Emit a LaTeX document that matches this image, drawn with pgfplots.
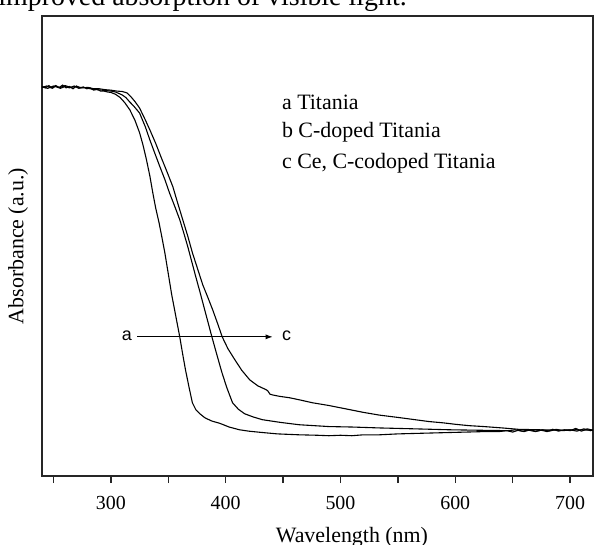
\documentclass[border=0pt]{standalone}
\usepackage{fontspec}
\setmainfont{Liberation Serif}
\newfontfamily\arialfont{Liberation Sans}
\usepackage{pgfplots}
\pgfplotsset{compat=1.18}
\usetikzlibrary{arrows.meta}

% absorbance spectra, values
\pgfplotstableread{
x y
240 0.846
243 0.843
246 0.848
249 0.842
252 0.847
255 0.844
258 0.849
261 0.843
264 0.846
267 0.841
270 0.847
273 0.843
276 0.845
279 0.841
282 0.843
285 0.838
288 0.840
291 0.836
294 0.836
297 0.834
300 0.833
304 0.829
308 0.822
312 0.811
316.5 0.795
321 0.772
325 0.745
328 0.718
331 0.686
334 0.650
336.5 0.614
339 0.581
342 0.548
344.5 0.516
347 0.483
350 0.437
353 0.391
356.5 0.345
360 0.299
362.5 0.262
365 0.227
368 0.190
371 0.155
374 0.140
378 0.130
382 0.122
388 0.115
395 0.110
403 0.102
412 0.096
420 0.093
432 0.090
445 0.087
464 0.085
480 0.084
490 0.083
500 0.084
510 0.083
520 0.085
534 0.085
550 0.087
565 0.088
580 0.089
595 0.090
610 0.091
625 0.092
638 0.092
645 0.094
650 0.091
655 0.095
660 0.092
665 0.096
670 0.093
675 0.095
680 0.092
685 0.097
690 0.093
695 0.096
700 0.094
705 0.099
710 0.093
715 0.098
720 0.095
}\dataA

\pgfplotstableread{
x y
240 0.844
244 0.847
248 0.843
252 0.848
256 0.842
260 0.846
264 0.843
268 0.847
272 0.842
276 0.844
280 0.842
284 0.840
288 0.839
292 0.838
296 0.837
300 0.836
304 0.834
309.5 0.828
313 0.822
316.5 0.812
320 0.803
325 0.788
330 0.758
334 0.729
338 0.702
342.5 0.672
347 0.643
351 0.614
355.5 0.585
360 0.555
363.5 0.526
367 0.496
370.5 0.463
374 0.430
377.5 0.398
381 0.365
384.5 0.332
388 0.299
392 0.263
396.5 0.223
401 0.188
406 0.155
411 0.141
416.5 0.131
424 0.124
432 0.118
448 0.112
464 0.107
490 0.103
510 0.102
534 0.100
565 0.098
595 0.096
620 0.095
647 0.094
652 0.096
658 0.093
664 0.095
670 0.092
676 0.096
682 0.093
688 0.097
694 0.094
700 0.096
706 0.093
712 0.098
718 0.094
720 0.096
}\dataB

\pgfplotstableread{
x y
240 0.845
245 0.842
250 0.847
255 0.843
260 0.848
265 0.844
270 0.846
275 0.843
280 0.844
285 0.841
290 0.841
295 0.839
300 0.838
305 0.836
310 0.835
314 0.832
318 0.822
321 0.813
325 0.799
330 0.773
334 0.751
339 0.722
344 0.690
349 0.659
354 0.627
358 0.593
362.6 0.555
367 0.519
371 0.483
375.5 0.448
380 0.413
384.5 0.385
388.7 0.358
393 0.328
397 0.299
402 0.273
408 0.249
414 0.226
421 0.205
428 0.192
435.7 0.183
437 0.180
438.5 0.174
441 0.172
447 0.169
455.6 0.166
465 0.161
475.6 0.155
490 0.149
508 0.140
520 0.134
534 0.128
550 0.123
565 0.118
577 0.114
590 0.111
600 0.108
612 0.105
625 0.103
641 0.100
655 0.097
673 0.096
690 0.095
705 0.096
720 0.095
}\dataC

\begin{document}
\begin{tikzpicture}
\path[use as bounding box] (-21bp,-34.5bp) rectangle (276bp,238bp);
\node[anchor=base west, inner sep=0pt, font=\fontsize{14}{16}\selectfont] at (-22bp,235bp) {improved absorption of visible light.};
\begin{axis}[
  name=ax,
  at={(0,0)}, anchor=south west,
  scale only axis,
  width=275.5bp, height=230bp,
  xmin=240, xmax=720, ymin=-0.005, ymax=1,
  xtick={300,400,...,700},
  minor xtick={250,350,...,650},
  ytick=\empty,
  xtick pos=bottom,
  tick align=outside,
  major tick length=3.5bp, minor tick length=3.5bp,
  every tick/.style={line width=0.7pt, black!85},
  axis line style={line width=0.9pt, black!85},
  /pgf/number format/assume math mode=true,
  xticklabel style={font=\fontsize{10}{12}\selectfont, yshift=-3bp},
  xlabel={Wavelength (nm)},
  xlabel style={font=\fontsize{11}{13}\selectfont, at={(axis cs:510,-0.005)}, anchor=center, yshift=-30.5bp},
  ylabel={Absorbance (a.u.)},
  ylabel style={font=\fontsize{11}{13}\selectfont, at={([xshift=-12bp]axis description cs:0,0.5)}, anchor=center},
  clip=true,
]
\addplot[black, line width=0.55pt] table[x=x,y=y] {\dataA};
\addplot[black, line width=0.55pt] table[x=x,y=y] {\dataB};
\addplot[black, line width=0.55pt] table[x=x,y=y] {\dataC};

\node[anchor=west, font=\fontsize{11}{13}\selectfont] at (axis cs:443,0.812) {a Titania};
\node[anchor=west, font=\fontsize{11}{13}\selectfont] at (axis cs:443,0.747) {b C-doped Titania};
\node[anchor=west, font=\fontsize{11}{13}\selectfont] at (axis cs:443,0.679) {c Ce, C-codoped Titania};

\draw[-{Latex[length=3.5bp,width=2.5bp]}, line width=0.5pt] (axis cs:323,0.299) -- (axis cs:441,0.299);
\node[font=\arialfont\fontsize{9}{10}\selectfont] at (axis cs:314,0.302) {a};
\node[font=\arialfont\fontsize{9}{10}\selectfont] at (axis cs:453,0.302) {c};
\end{axis}
\end{tikzpicture}
\end{document}
